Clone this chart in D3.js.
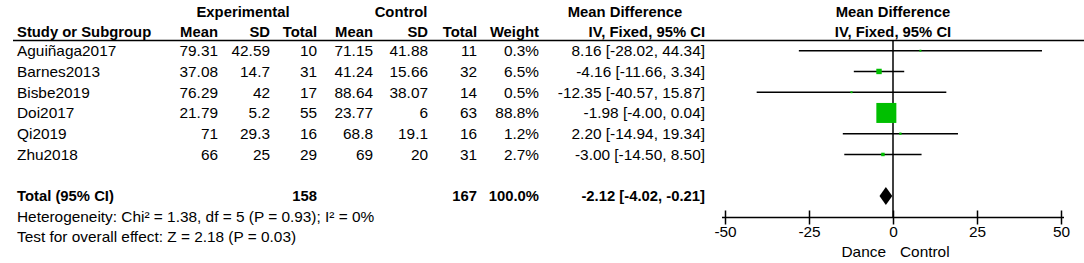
<!DOCTYPE html>
<html>
<head>
<meta charset="utf-8">
<script src="https://cdn.jsdelivr.net/npm/d3@7"></script>
<style>
  body { margin: 0; background: #fff; }
  text { font-family: "Liberation Sans", Arial, sans-serif; font-size: 14px; fill: #000; }
  .b { font-weight: bold; }
</style>
</head>
<body>
<div id="chart"></div>
<script>
var studies  = ["Aguiñaga2017", "Barnes2013", "Bisbe2019", "Doi2017", "Qi2019", "Zhu2018"];
var expMean  = [79.31, 37.08, 76.29, 21.79, 71, 66];
var expSD    = [42.59, 14.7, 42, 5.2, 29.3, 25];
var expN     = [10, 31, 17, 55, 16, 29];
var ctlMean  = [71.15, 41.24, 88.64, 23.77, 68.8, 69];
var ctlSD    = [41.88, 15.66, 38.07, 6, 19.1, 20];
var ctlN     = [11, 32, 14, 63, 16, 31];
var weight   = [0.3, 6.5, 0.5, 88.8, 1.2, 2.7];
var md       = [8.16, -4.16, -12.35, -1.98, 2.20, -3.00];
var ciLo     = [-28.02, -11.66, -40.57, -4.00, -14.94, -14.50];
var ciHi     = [44.34, 3.34, 15.87, 0.04, 19.34, 8.50];
var total    = {expN: 158, ctlN: 167, weight: 100.0, md: -2.12, lo: -4.02, hi: -0.21};
var axisTicks = [-50, -25, 0, 25, 50];
var hetText  = "Heterogeneity: Chi² = 1.38, df = 5 (P = 0.93); I² = 0%";
var testText = "Test for overall effect: Z = 2.18 (P = 0.03)";

var W = 1084, H = 263, SX = 1.1, SXB = 1.06;
var svg = d3.select("#chart").append("svg").attr("width", W).attr("height", H);

var x = d3.scaleLinear().domain([-50, 50]).range([725, 1061]);
var y = function(i){ return 50.7 + i*20.75; };
var sq = d3.scaleSqrt().domain([0, 88.8]).range([0, 20]);

function txt(str, px, py, anchor, cls){
	var s = cls == "b" ? SXB : SX;
	return svg.append("text")
		.attr("class", cls || null)
		.attr("text-anchor", anchor || "start")
		.attr("transform", "translate(" + px + "," + py + ") scale(" + s + ",1)")
		.text(str);
}

// headers
txt("Experimental", 243, 16.5, "middle", "b");
txt("Control", 401, 16.5, "middle", "b");
txt("Mean Difference", 625, 16.5, "middle", "b");
txt("Mean Difference", 893, 16.5, "middle", "b");
txt("Study or Subgroup", 17, 37, "start", "b");
var colX = [218, 270, 317, 373, 428, 477, 539, 705];
["Mean", "SD", "Total", "Mean", "SD", "Total", "Weight", "IV, Fixed, 95% CI"].forEach(function(h, i){
	txt(h, colX[i], 37, "end", "b");
});
txt("IV, Fixed, 95% CI", 893, 37, "middle", "b");

svg.append("line").attr("x1", 13).attr("x2", W).attr("y1", 40.5).attr("y2", 40.5)
	.style("stroke", "#000").style("stroke-width", 1.5);

// study rows
studies.forEach(function(s, i){
	var by = y(i) + 5.5;
	txt(s, 17, by);
	var vals = [expMean[i], expSD[i], expN[i], ctlMean[i], ctlSD[i], ctlN[i],
		weight[i].toFixed(1) + "%",
		md[i].toFixed(2) + " [" + ciLo[i].toFixed(2) + ", " + ciHi[i].toFixed(2) + "]"];
	vals.forEach(function(v, j){ txt(String(v), colX[j], by, "end"); });
});

// total rows
var ty = y(7) + 5.5;
txt("Total (95% CI)", 17, ty, "start", "b");
txt(String(total.expN), colX[2], ty, "end", "b");
txt(String(total.ctlN), colX[5], ty, "end", "b");
txt(total.weight.toFixed(1) + "%", colX[6], ty, "end", "b");
txt(total.md.toFixed(2) + " [" + total.lo.toFixed(2) + ", " + total.hi.toFixed(2) + "]", colX[7], ty, "end", "b");
txt(hetText, 17, y(8) + 5);
txt(testText, 17, y(9) + 5);

// forest plot
var axisY = 217.5;
svg.append("line").attr("x1", x(0)).attr("x2", x(0)).attr("y1", 40.5).attr("y2", axisY)
	.style("stroke", "#000").style("stroke-width", 1.5);

svg.selectAll(".ci").data(studies).enter().append("line")
	.attr("class", "ci")
	.attr("x1", function(d, i){ return x(ciLo[i]); })
	.attr("x2", function(d, i){ return x(ciHi[i]); })
	.attr("y1", function(d, i){ return y(i); })
	.attr("y2", function(d, i){ return y(i); })
	.style("stroke", "#000").style("stroke-width", 1.5);

svg.selectAll(".box").data(studies).enter().append("rect")
	.attr("class", "box")
	.attr("x", function(d, i){ return x(md[i]) - Math.max(2, sq(weight[i]))/2; })
	.attr("y", function(d, i){ return y(i) - Math.max(2, sq(weight[i]))/2; })
	.attr("width", function(d, i){ return Math.max(2, sq(weight[i])); })
	.attr("height", function(d, i){ return Math.max(2, sq(weight[i])); })
	.style("fill", "#00bf00");

var dy = y(7);
svg.append("path")
	.attr("d", "M" + x(total.lo) + "," + dy + "L" + x(total.md) + "," + (dy - 9) +
		"L" + x(total.hi) + "," + dy + "L" + x(total.md) + "," + (dy + 9) + "Z")
	.style("fill", "#000");

var axis = d3.axisBottom(x).tickValues(axisTicks).tickSize(7)
	.tickFormat(function(d){ return String(d); });
var ga = svg.append("g").attr("transform", "translate(0," + axisY + ")").call(axis);
ga.select(".domain").remove();
ga.append("line").attr("x1", x(-50) - 3).attr("x2", x(50) + 3)
	.style("stroke", "#000").style("stroke-width", 1.5);
ga.selectAll(".tick line").attr("y1", -7).attr("y2", 7).style("stroke", "#000").style("stroke-width", 1.5);
ga.selectAll(".tick text")
	.attr("y", 0).attr("dy", null)
	.attr("transform", "translate(0,19.5) scale(" + SX + ",1)")
	.style("font-family", "'Liberation Sans', Arial, sans-serif").style("font-size", "14px").style("fill", "#000");

txt("Dance", x(0) - 7, 256.5, "end");
txt("Control", x(0) + 7, 256.5, "start");
</script>
</body>
</html>
